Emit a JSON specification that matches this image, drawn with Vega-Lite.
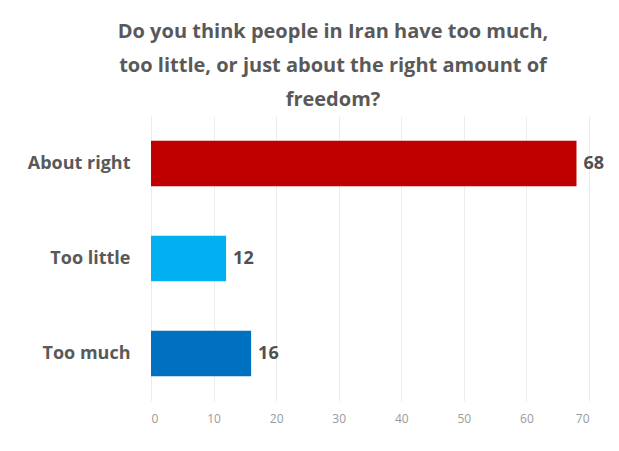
{
  "$schema": "https://vega.github.io/schema/vega-lite/v6.json",
  "width": 438,
  "height": 285,
  "autosize": {"type": "none"},
  "padding": {"left": 151, "top": 116, "right": 30, "bottom": 50},
  "background": "white",
  "title": {
    "text": ["Do you think people in Iran have too much,", "too little, or just about the right amount of", "freedom?"],
    "font": "Open Sans",
    "fontSize": 20,
    "fontWeight": "bold",
    "color": "#595959",
    "lineHeight": 34,
    "anchor": "middle",
    "dx": -37,
    "offset": 6
  },
  "data": {
    "values": [
      {"answer": "About right", "value": 68},
      {"answer": "Too little", "value": 12},
      {"answer": "Too much", "value": 16}
    ]
  },
  "config": {
    "view": {"stroke": null},
    "font": "Open Sans"
  },
  "encoding": {
    "y": {
      "field": "answer",
      "type": "nominal",
      "sort": ["About right", "Too little", "Too much"],
      "scale": {"paddingInner": 0.52, "paddingOuter": 0.26},
      "axis": {
        "title": null,
        "domain": false,
        "ticks": false,
        "labelFont": "Open Sans",
        "labelFontSize": 18,
        "labelFontWeight": "bold",
        "labelColor": "#595959",
        "labelPadding": 21
      }
    },
    "x": {
      "field": "value",
      "type": "quantitative",
      "scale": {"domain": [0, 70], "nice": false},
      "axis": {
        "title": null,
        "values": [0, 10, 20, 30, 40, 50, 60, 70],
        "domain": false,
        "ticks": false,
        "grid": true,
        "gridColor": "#ececec",
        "gridWidth": 1,
        "labelFont": "Open Sans",
        "labelFontSize": 12,
        "labelColor": "#9a9a9a",
        "labelPadding": 12
      }
    }
  },
  "layer": [
    {
      "mark": {"type": "bar"},
      "encoding": {
        "color": {
          "field": "answer",
          "type": "nominal",
          "scale": {"domain": ["About right", "Too little", "Too much"], "range": ["#C00000", "#00B0F0", "#0070C0"]},
          "legend": null
        }
      }
    },
    {
      "mark": {"type": "text", "align": "left", "dx": 7, "font": "Open Sans", "fontSize": 18, "fontWeight": "bold", "color": "#505050"},
      "encoding": {"text": {"field": "value", "type": "quantitative"}}
    }
  ]
}
